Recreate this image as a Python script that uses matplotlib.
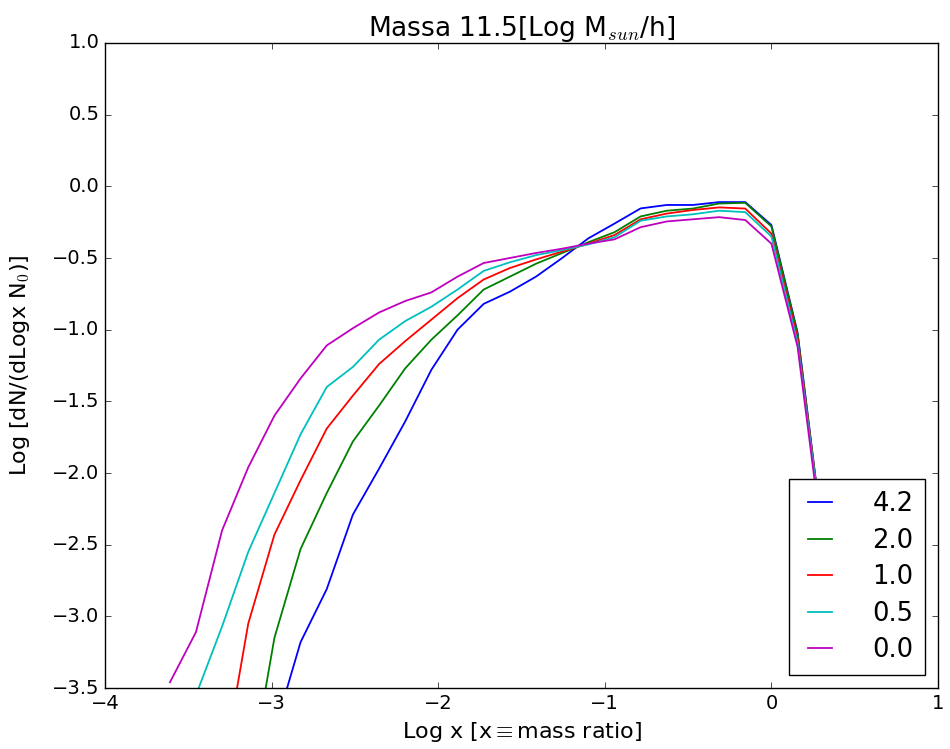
import matplotlib
matplotlib.use('Agg')
import matplotlib.pyplot as plt
import numpy as np

plt.style.use('classic')

# log x (bin centers)
logx = [-3.61, -3.454, -3.297, -3.14, -2.983, -2.826, -2.669, -2.512, -2.355,
        -2.198, -2.041, -1.884, -1.727, -1.57, -1.413, -1.256, -1.099, -0.942,
        -0.785, -0.628, -0.471, -0.314, -0.157, 0.0, 0.157, 0.314]

nan = np.nan
y_42 = [nan, nan, nan, nan, -3.8, -3.18, -2.81, -2.29, -1.97, -1.64, -1.28, -1.00,
        -0.82, -0.735, -0.63, -0.50, -0.363, -0.26, -0.154, -0.13, -0.13, -0.11,
        -0.11, -0.27, -1.02, -2.5]
y_20 = [nan, nan, nan, -4.2, -3.15, -2.53, -2.14, -1.78, -1.53, -1.27, -1.07, -0.90,
        -0.72, -0.63, -0.54, -0.465, -0.39, -0.32, -0.21, -0.17, -0.155, -0.12,
        -0.115, -0.28, -1.03, -2.5]
y_10 = [nan, nan, -4.1, -3.05, -2.43, -2.05, -1.69, -1.46, -1.24, -1.08, -0.93, -0.78,
        -0.65, -0.57, -0.51, -0.455, -0.40, -0.34, -0.23, -0.19, -0.165, -0.147,
        -0.155, -0.33, -1.06, -2.5]
y_05 = [nan, -3.55, -3.07, -2.55, -2.14, -1.73, -1.40, -1.26, -1.07, -0.94, -0.84, -0.72,
        -0.59, -0.53, -0.48, -0.445, -0.405, -0.355, -0.24, -0.21, -0.195, -0.17,
        -0.18, -0.35, -1.09, -2.5]
y_00 = [-3.46, -3.11, -2.40, -1.96, -1.60, -1.34, -1.11, -0.99, -0.88, -0.80, -0.74, -0.63,
        -0.535, -0.50, -0.465, -0.435, -0.40, -0.37, -0.285, -0.245, -0.23, -0.215,
        -0.235, -0.40, -1.12, -2.55]

series = [('4.2', y_42, 'b'), ('2.0', y_20, 'g'), ('1.0', y_10, 'r'),
          ('0.5', y_05, 'c'), ('0.0', y_00, 'm')]

fig = plt.figure(figsize=(9.5, 7.49), dpi=100, facecolor='white')
ax = fig.add_subplot(111)
fig.subplots_adjust(left=0.1105, right=0.9874, bottom=0.0814, top=0.9426)

for label, y, c in series:
    ax.plot(logx, y, color=c, lw=1.3, label=label)

ax.set_xlim(-4, 1)
ax.set_ylim(-3.5, 1.0)
ax.set_xticks([-4, -3, -2, -1, 0, 1])
ax.set_yticks(np.arange(-3.5, 1.01, 0.5))
ax.tick_params(labelsize=14)

ax.set_title('Massa 11.5[Log M$_{sun}$/h]', fontsize=19)
ax.set_xlabel(r'Log x [x$\equiv$mass ratio]', fontsize=16)
ax.set_ylabel('Log [dN/(dLogx N$_0$)]', fontsize=16, labelpad=14)

# Légende
ax.legend(loc='lower right', fontsize=18.6, handlelength=1.5, handletextpad=1.28,
          labelspacing=0.41, borderpad=0.45, fancybox=False, shadow=False)

fig.savefig('out.png', dpi=100, facecolor='white')
plt.close()
